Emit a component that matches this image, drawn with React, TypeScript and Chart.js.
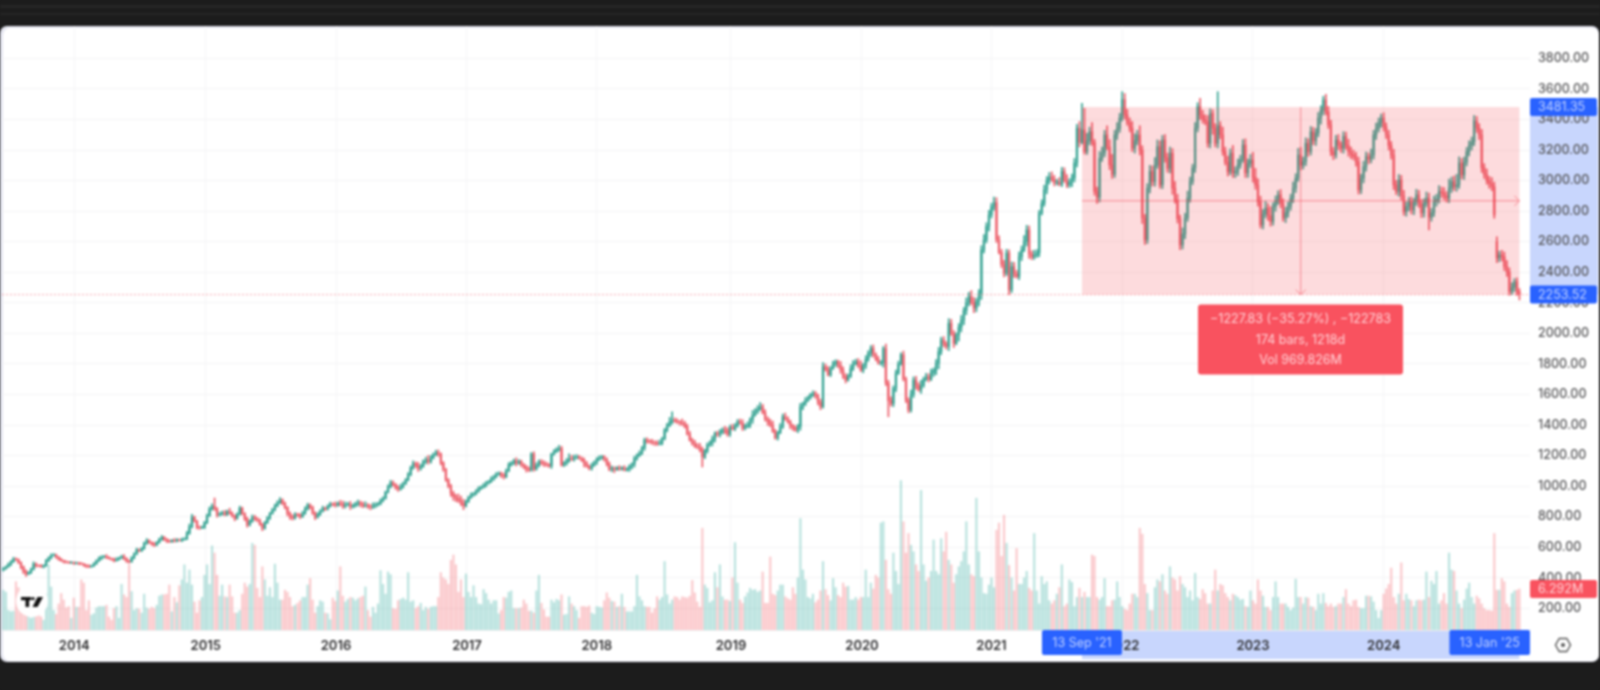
import React, { useEffect, useRef } from "react";
import { Chart, registerables } from "chart.js";

Chart.register(...registerables);

const closes = [
460,472,488,505,522,518,500,470,440,425,
435,455,490,480,478,472,480,510,530,545,
549,535,520,512,505,502,498,500,495,497,
492,490,482,476,472,478,492,510,525,535,
538,532,525,520,512,520,530,538,525,510,
505,530,555,582,577,590,625,642,630,620,
614,630,650,665,650,640,636,645,640,648,
645,650,653,690,734,796,770,730,728,730,
760,805,850,868,850,811,815,825,815,833,
820,805,789,815,855,820,785,745,770,797,
785,778,750,724,760,790,820,845,870,890,
909,885,860,820,800,790,815,810,800,820,
850,876,860,825,796,815,835,855,850,868,
883,880,875,887,880,870,878,880,865,870,
885,891,880,870,875,868,863,870,878,883,
905,920,960,995,1022,1010,990,979,995,1015,
1040,1075,1120,1149,1135,1116,1130,1160,1171,1160,
1185,1205,1219,1210,1151,1110,1040,1000,953,930,
920,905,890,870,900,925,942,950,965,985,
992,1005,1020,1029,1045,1060,1075,1084,1070,1062,
1100,1140,1151,1165,1150,1160,1140,1125,1110,1105,
1210,1112,1135,1160,1150,1145,1140,1132,1210,1225,
1240,1247,1138,1150,1165,1182,1178,1185,1190,1182,
1170,1150,1130,1116,1135,1155,1175,1185,1192,1175,
1145,1110,1115,1108,1120,1112,1118,1105,1110,1130,
1145,1182,1200,1215,1250,1302,1295,1290,1285,1282,
1275,1280,1310,1367,1395,1420,1433,1425,1420,1415,
1411,1390,1340,1302,1280,1262,1258,1240,1192,1230,
1269,1285,1310,1346,1340,1350,1370,1367,1340,1385,
1375,1395,1420,1413,1380,1390,1400,1435,1465,1490,
1505,1520,1480,1440,1421,1400,1360,1315,1350,1389,
1454,1440,1420,1395,1380,1367,1390,1520,1540,1560,
1580,1600,1607,1590,1550,1520,1782,1760,1727,1770,
1800,1815,1790,1760,1720,1695,1720,1770,1800,1815,
1790,1760,1790,1830,1870,1902,1860,1830,1805,1805,
1900,1675,1560,1540,1640,1740,1800,1860,1700,1563,
1498,1600,1695,1660,1630,1660,1700,1716,1700,1740,
1760,1804,1880,1957,1930,1913,2066,2000,1935,1990,
2040,2087,2150,2200,2240,2200,2165,2210,2262,2546,
2610,2700,2775,2830,2856,2612,2530,2450,2393,2526,
2284,2437,2390,2371,2502,2546,2600,2677,2520,2500,
2510,2526,2787,2850,2940,3000,3025,3010,2985,2990,
2975,3060,3000,2971,2990,3015,3115,3343,3250,3331,
3189,3260,3320,3250,2928,2890,3146,3180,3299,3220,
3102,3040,3299,3340,3410,3530,3430,3380,3343,3210,
3260,3299,3200,2755,2612,2950,3060,2993,3100,3222,
2971,3266,3150,3080,3180,2950,2873,2750,2578,2650,
2755,2885,2993,3083,3343,3484,3430,3400,3386,3244,
3440,3343,3244,3360,3300,3189,3120,3058,3180,3050,
3060,3102,3140,3233,3050,3110,3135,3020,2971,2862,
2709,2780,2820,2770,2732,2830,2870,2907,2850,2755,
2790,2830,2885,2950,3015,3167,3100,3124,3244,3189,
3320,3260,3311,3410,3460,3528,3450,3365,3189,3167,
3266,3230,3210,3290,3230,3189,3170,3157,3124,2938,
3015,3090,3157,3140,3167,3299,3340,3380,3410,3350,
3299,3230,3167,2971,2928,3004,2900,2797,2830,2862,
2807,2860,2907,2850,2788,2850,2885,2760,2790,2862,
2880,2928,2919,2900,2885,2950,2993,2960,2971,3115,
3037,3120,3189,3230,3255,3390,3343,3299,3083,3040,
3000,2980,2960,2775,2493,2514,2502,2437,2403,2273,
2300,2338,2273,2253.52];

const openGaps: Record<number, number> = { 0: 452, 594: 2600 };

const wickUp = [
8,6,10,7,12,9,6,5,8,12,6,9,14,7,5,8,6,10,8,12,
10,6,5,8,4,6,5,7,4,6,5,8,4,6,9,5,7,8,12,10,
9,14,6,5,8,12,6,10,14,7,5,9,8,12,7,10,9,14,8,6,
12,8,10,12,6,8,10,5,12,8,6,9,10,14,18,20,8,6,10,8,
10,12,14,16,54,10,14,12,16,10,22,12,8,10,14,8,6,12,10,14,
12,10,6,8,10,12,8,10,12,14,16,8,10,6,12,14,12,8,10,16,
14,12,8,10,6,12,10,14,8,10,12,8,16,10,20,22,18,14,20,12,
10,18,12,16,22,10,12,20,14,10,12,10,8,14,16,12,8,14,18,12,
10,14,12,16,10,20,14,12,18,30,16,12,16,18,8,10,6,10,12,14,
16,28,30,24,8,10,14,10,12,12,10,14,12,10,16,12,14,10,8,16,
12,14,10,12,20,14,10,8,12,16,10,14,18,12,14,16,12,8,6,14,
12,20,14,10,16,30,20,18,16,12,10,14,12,8,16,10,12,14,10,8,
10,14,16,12,8,14,10,16,12,10,8,14,12,16,10,12,14,10,16,12,
14,22,10,12,16,30,54,14,16,10,24,14,16,18,12,20,18,22,16,10,
14,12,18,10,14,20,12,22,16,14,20,14,16,18,22,16,20,12,30,18,
22,26,16,20,14,18,26,12,10,20,18,24,14,12,10,16,14,22,10,20,
10,8,16,14,12,20,26,18,22,14,18,12,10,26,20,16,14,24,22,16,
20,30,14,24,16,18,22,12,20,16,14,30,18,24,16,20,18,12,24,14,
16,28,20,24,18,32,14,22,20,26,14,24,28,18,22,16,30,26,18,14,
24,30,20,32,28,40,34,20,24,28,36,24,30,22,36,32,26,20,28,24,
20,30,28,22,30,26,40,30,26,20,34,22,18,24,30,26,28,32,24,18,
30,26,24,40,22,28,30,26,44,175,142,50,30,60,20,30,44,40,30,60,
48,70,30,40,30,52,40,36,30,44,46,30,60,28,24,30,40,36,50,44,
38,30,36,30,40,30,44,38,24,40,30,46,30,24,36,26,55,30,30,40,
30,24,30,222,26,50,30,40,28,50,30,38,26,36,40,30,36,50,60,40,
36,30,44,30,60,24,30,26,34,30,36,30,26,40,30,44,50,30,36,30,
34,28,30,36,30,24,37,36,30,28,30,36,24,30,28,40,30,30,28,30,
26,36,30,24,40,30,36,30,26,34,28,30,26,38,30,36,30,36,30,28,
30,24,36,30,26,30,40,34,28,36,30,40,30,36,28,60,30,36,70,40,
30,34,28,30,30,36,30,30,36,28,36,28,40,30,32,24,30,30,40,26,
30,20,26,20];

const wickDown = [
8,6,5,9,6,4,8,12,14,16,6,8,5,10,6,4,8,6,5,7,
4,8,6,5,9,6,4,5,8,6,7,5,8,10,6,4,5,6,4,8,
5,7,4,6,8,4,5,6,8,10,9,4,6,5,8,6,4,7,6,8,
10,5,4,6,8,10,6,4,7,5,6,8,5,4,6,8,6,10,12,6,
8,6,4,7,10,14,8,6,10,8,6,8,16,6,5,8,12,14,6,8,
10,12,8,16,6,5,8,4,7,6,5,8,10,16,18,12,6,10,14,6,
5,8,10,12,16,6,8,5,10,7,6,10,12,8,10,16,14,8,18,10,
8,14,16,12,8,14,18,10,12,10,6,8,6,5,8,10,12,14,6,8,
5,6,8,10,16,20,12,8,14,16,10,8,6,16,12,14,10,12,20,24,
22,14,18,24,6,8,6,10,8,6,8,6,10,8,6,8,6,5,14,16,
8,6,10,12,18,8,14,12,18,10,8,14,8,10,12,16,12,10,16,8,
6,12,8,10,14,10,12,14,8,6,10,24,8,10,12,6,14,8,10,12,
14,10,16,20,6,10,8,6,8,14,18,20,12,8,10,16,14,10,12,16,
8,6,10,8,12,6,14,8,10,16,14,10,6,8,12,10,14,16,67,12,
14,10,22,20,16,18,10,24,14,14,8,12,10,8,16,12,10,18,24,8,
16,10,8,14,24,12,10,8,14,8,12,10,8,20,16,10,18,24,20,14,
8,12,14,16,18,20,10,8,6,10,6,18,14,22,16,20,8,10,14,8,
14,10,18,20,14,22,16,10,8,14,26,18,106,16,20,22,10,8,12,16,
18,14,20,26,10,24,14,12,18,10,22,30,36,20,18,16,26,14,28,10,
40,30,30,28,20,14,30,24,30,40,20,18,30,20,24,18,10,20,24,16,
30,18,24,10,20,26,12,28,30,18,16,14,24,12,18,26,22,16,20,14,
10,14,12,18,16,30,24,26,30,10,16,18,26,20,24,40,30,20,24,18,
30,26,20,30,24,20,28,18,24,20,30,26,32,36,30,24,30,28,30,20,
20,24,30,26,30,40,20,28,30,26,30,22,26,20,30,24,30,24,20,26,
30,40,24,30,26,24,18,28,20,30,30,26,22,20,30,30,24,30,28,30,
20,26,24,30,30,24,30,26,28,20,30,30,24,30,28,20,30,24,26,30,
22,26,30,24,40,30,20,24,26,30,20,28,26,30,24,30,26,22,30,26,
24,30,28,30,24,26,30,22,30,26,24,30,26,30,20,30,26,24,30,28,
26,30,24,26,30,28,22,83,26,24,30,28,30,24,26,30,28,24,30,22,
26,30,24,28,30,26,28,30,30,26,24,30,26,22,30,24,28,26,30,24,
20,26,24,35];

const volumesM = [
6.1,5.8,3,2.8,2.9,7.4,6.5,3.6,3,2.5,
2.2,1.8,2.4,3,3.2,2,1.5,5.5,10,6.6,
3,2.4,4,5.6,4.6,3.4,3.6,1.8,4.9,3.5,
3.5,7.7,7.2,3,4.5,2.3,2.5,3.4,3.6,3.6,
3.6,3.8,2,1.5,3.3,3.6,1.8,7,5.4,5,
10,5.9,3,3.3,3.2,2.6,5.5,3.4,3.2,3.5,
3.3,3.8,5.2,5.4,5.4,5.5,6.9,2.8,5,4.2,
6.8,7.7,10,7.2,9.2,6.9,4.3,2.6,4.5,5,
8.4,10,7,12.9,11.8,8.4,5.2,6.9,5.1,5,
6.9,5.1,2.6,2.6,3,5.5,7.2,6.6,7,13.3,
13,6.4,5,9.7,7.7,5.2,6.5,5,10.1,7.2,
4.6,4.6,6.1,5.8,5,3.6,3.8,4.1,4.5,5,
5,6.9,7.9,4.6,2.6,3.6,4.5,4.3,2.6,2.5,
1.6,4.9,4.4,6,9.7,5.2,4.3,4.7,5,4.9,
4.5,4.8,5,5.2,6.6,3,2,3.5,2.6,4,
9.1,7,5.5,8.9,8.5,3.3,3.2,4.5,4.7,4.9,
4.6,8.8,4.3,4.5,3.3,3.6,4.1,3,3.5,3.2,
3.5,3.6,3.6,5,8.8,8,7.7,7,10.7,11.5,
10,5.8,7.7,5,8.6,5.8,5,6.8,5,4,
3.9,6.2,5.6,4.6,4,4.5,4.5,2.5,3,5,
4.9,5.8,6,3.3,3.3,3.3,3.4,4.6,4,2.9,
2.9,2.6,6,8.4,4.1,3.1,2,2,4.6,4.2,
4.7,4.5,5.4,2.3,2.4,5.1,4,3.6,3,1.8,
3.6,3.6,3.5,3.7,2.6,2.4,3.6,3.5,3.4,4.5,
5.7,4.9,4.4,4.3,3.5,3.6,5.5,3.5,2.8,2.8,
2.8,3.6,8.4,5.1,4.5,3.6,3.5,3.5,2.6,3.3,
5.1,4.6,5,10.5,5.4,4,4.6,5.1,5,4.6,
5.1,5,4.9,5.2,7.6,5.7,4.3,3.5,15.6,6.9,
6.4,4.2,4.5,8.8,6.5,10,5.1,4.6,4.6,4.4,
8,13.4,7.2,4.6,4.1,5.1,5.7,6.4,6.1,6.2,
5.8,6,8.9,4.1,4.1,11.2,5.5,5.3,6,6.9,
6.9,5.1,4.8,4.6,6.5,5.5,8,17.1,9.2,7.7,
5,4.8,5.5,4.2,4.6,6,10.5,6.2,5.3,4.5,
7.9,6.5,5.3,5,7.2,6.6,6.7,4.6,4.6,5,
4.6,5,5,9.2,5,7.2,6.3,8.4,8,16.4,
16.6,10.7,6.2,5.5,11.8,9,7,22.9,16.6,11.8,
14.8,13,12,10,9,21.4,10,7.5,8,9,
13.8,9,8.5,14,12,15,10.7,10,7.2,8.5,
9.7,10.5,12,16.6,10,8.5,8.2,20.2,12,8,
5.6,5.5,6.9,8,6.5,15.3,16.4,11.3,17.6,13.3,
9.9,8,6,12.5,7,7,8,9,6.4,6,
14.8,6,4,8.2,7,7.4,4.5,4,4.5,5.5,
6.5,10,3.6,4,7.7,7.3,3.6,5,6.4,5,
5.8,5,5,11.5,11.3,5,4.6,5,7.9,3.6,
3.6,4.5,4.6,7.4,5,3.6,3.2,3,4,5.5,
5.5,5,15.6,14.7,7,5.6,3,3,6.5,7.7,
7.4,8.5,6,5.5,9.7,8,7.7,6,8.2,7,
6.5,5,6,4.5,8.7,5,4.7,6.2,5.6,4,
4,6,9.2,6,7,6.8,5.6,5,4.5,5.5,
5.3,5,4.6,4.7,3.6,3.5,6,4.5,4,7.7,
6,5.2,3.5,3.5,3,5,7.4,5,4,4,
4,3.5,3,3.4,7.8,5,5,4,5,4.9,
3.6,3.5,3,5.5,4,5.6,4.1,3.6,4,3.5,
3.6,4,4,5,6.2,4,3.6,4.5,4.6,3.5,
3.3,3.3,5.2,5.2,5.1,4.3,3,1.8,3,5.5,
6.3,7,9.5,5,4,5.5,10.3,4.5,5.5,4.7,
4.5,3.6,4.5,4.6,4.5,4.6,8.9,5,7.5,7,
9,4,4.5,5.6,4,11.8,9.2,9,6,4,
3.3,4.6,6.3,7.2,5,4,5.2,4.8,4,3.3,
3,3,2.9,14.8,6.1,6.1,7.9,7.4,4,3.5,
5.6,6,6.1,6.292];

const priceTicks = [200,400,600,800,1000,1200,1400,1600,1800,2000,2200,2400,2600,2800,3000,3200,3400,3600,3800];
const yearLabels = ["2014","2015","2016","2017","2018","2019","2020","2021","2022","2023","2024"];
const yearBars = [28.2,80.5,132.3,184.4,236,289.4,341.5,393,445.3,497,549];

const RANGE_START_BAR = 429;
const RANGE_END_BAR = 603;
const RANGE_TOP = 3481.35;
const RANGE_BOTTOM = 2253.52;
const rangeInfo = ["\u22121227.83 (\u221235.27%) , \u2212122783", "174 bars, 1218d", "Vol 969.826M"];
const RANGE_START_LABEL = "13 Sep '21";
const RANGE_END_LABEL = "13 Jan '25";
const VOLUME_LABEL = "6.292M";

const UP = "#2fa08f";
const DOWN = "#ec5a66";
const UP_VOL = "rgba(38,166,154,0.33)";
const DOWN_VOL = "rgba(242,72,84,0.30)";

const opens = closes.map((c, i) => (i in openGaps ? openGaps[i] : i === 0 ? c : closes[i - 1]));

function roundRect(ctx: CanvasRenderingContext2D, x: number, y: number, w: number, h: number, r: number, fill: string) {
  ctx.fillStyle = fill;
  ctx.beginPath();
  ctx.roundRect(x, y, w, h, r);
  ctx.fill();
}

const backdrop = {
  id: "backdrop",
  beforeDraw(chart: any) {
    const { ctx, width, height, chartArea, scales } = chart;
    ctx.save();
    ctx.fillStyle = "#1c1c1c";
    ctx.fillRect(0, 0, width, height);
    ctx.fillStyle = "#262626";
    ctx.fillRect(0, 5, width, 3);
    ctx.fillRect(0, 13, width, 2);
    roundRect(ctx, 0, 26, width - 1, 636, 7, "#e4e5f0");
    roundRect(ctx, 3, 28, width - 4, 633, 7, "#ffffff");
    const x0 = scales.x.getPixelForValue(RANGE_START_BAR);
    const x1 = scales.x.getPixelForValue(RANGE_END_BAR);
    const yT = scales.y.getPixelForValue(RANGE_TOP);
    const yB = scales.y.getPixelForValue(RANGE_BOTTOM);
    ctx.fillStyle = "#c8d6fd";
    ctx.fillRect(chartArea.right, yT, width - chartArea.right - 2, yB - yT);
    ctx.fillRect(x0, chartArea.bottom, x1 - x0, 29);
    ctx.restore();
  },
};

const overlay = {
  id: "overlay",
  afterDatasetsDraw(chart: any) {
    const { ctx, chartArea, scales } = chart;
    const a = chartArea;
    const x0 = scales.x.getPixelForValue(RANGE_START_BAR);
    const x1 = scales.x.getPixelForValue(RANGE_END_BAR);
    const yT = scales.y.getPixelForValue(RANGE_TOP);
    const yB = scales.y.getPixelForValue(RANGE_BOTTOM);
    const midX = (x0 + x1) / 2;
    const midY = (yT + yB) / 2;
    ctx.save();
    ctx.fillStyle = "rgba(242,54,69,0.18)";
    ctx.fillRect(x0, yT, x1 - x0, yB - yT);
    ctx.strokeStyle = "rgba(242,64,80,0.55)";
    ctx.lineWidth = 1;
    ctx.beginPath();
    ctx.moveTo(x0, midY);
    ctx.lineTo(x1, midY);
    ctx.moveTo(x1 - 5, midY - 5);
    ctx.lineTo(x1, midY);
    ctx.lineTo(x1 - 5, midY + 5);
    ctx.moveTo(midX, yT);
    ctx.lineTo(midX, yB);
    ctx.moveTo(midX - 5, yB - 5);
    ctx.lineTo(midX, yB);
    ctx.lineTo(midX + 5, yB - 5);
    ctx.stroke();
    ctx.strokeStyle = "rgba(244,110,120,0.6)";
    ctx.setLineDash([2, 2]);
    ctx.beginPath();
    ctx.moveTo(a.left, yB);
    ctx.lineTo(a.right, yB);
    ctx.stroke();
    ctx.setLineDash([]);

    roundRect(ctx, 1198, yB + 10, 205, 70, 3, "#f9525f");
    ctx.fillStyle = "#ffd3d7";
    ctx.font = "12.5px Inter";
    ctx.textAlign = "center";
    ctx.textBaseline = "middle";
    rangeInfo.forEach((t, i) => ctx.fillText(t, 1300.5, yB + 25 + i * 20.5));

    const badge = (y: number, t: string, fill: string, color: string) => {
      roundRect(ctx, a.right, y - 9, 67, 18, 2, fill);
      ctx.fillStyle = color;
      ctx.font = "12.5px Inter";
      ctx.textAlign = "left";
      ctx.fillText(t, a.right + 8, y + 0.5);
    };
    badge(yT, RANGE_TOP.toFixed(2), "#2962ff", "#c3d3ff");
    badge(yB, RANGE_BOTTOM.toFixed(2), "#2962ff", "#c3d3ff");
    badge(scales.v.getPixelForValue(volumesM[volumesM.length - 1]), VOLUME_LABEL, "#f9525f", "#ffd3d7");

    const timeBadge = (left: number, right: number, t: string) => {
      roundRect(ctx, left, a.bottom, right - left, 25, 2, "#2962ff");
      ctx.fillStyle = "#c3d3ff";
      ctx.font = "12.5px Inter";
      ctx.textAlign = "center";
      ctx.fillText(t, (left + right) / 2, a.bottom + 13);
    };
    timeBadge(x0 - 40, x0 + 40, RANGE_START_LABEL);
    timeBadge(x1 - 70, a.right, RANGE_END_LABEL);

    // TradingView mark
    ctx.fillStyle = "#ffffff";
    ctx.beginPath();
    ctx.arc(32, 601, 16, 0, Math.PI * 2);
    ctx.fill();
    ctx.fillStyle = "#111111";
    ctx.fillRect(21, 597, 10, 3.2);
    ctx.fillRect(25.5, 597, 3.6, 10);
    ctx.beginPath();
    ctx.arc(33, 598.6, 1.7, 0, Math.PI * 2);
    ctx.fill();
    ctx.beginPath();
    ctx.moveTo(37.5, 597);
    ctx.lineTo(43, 597);
    ctx.lineTo(37.5, 607);
    ctx.lineTo(32.5, 607);
    ctx.fill();

    // settings glyph
    const cx = 1563;
    const cy = 645;
    ctx.strokeStyle = "#555555";
    ctx.lineWidth = 1.4;
    ctx.beginPath();
    for (let k = 0; k < 6; k++) {
      const ang = (Math.PI / 3) * k;
      const px = cx + 7.5 * Math.cos(ang);
      const py = cy + 7.5 * Math.sin(ang);
      if (k === 0) ctx.moveTo(px, py);
      else ctx.lineTo(px, py);
    }
    ctx.closePath();
    ctx.stroke();
    ctx.fillStyle = "#555555";
    ctx.beginPath();
    ctx.arc(cx, cy, 2, 0, Math.PI * 2);
    ctx.fill();
    ctx.restore();
  },
};

export default function App() {
  const ref = useRef<HTMLCanvasElement>(null);
  useEffect(() => {
    document.body.style.margin = "0";
    document.body.style.background = "#1c1c1c";
    const isUp = closes.map((c, i) => c >= opens[i]);
    const chart = new Chart(ref.current as HTMLCanvasElement, {
      type: "bar",
      data: {
        datasets: [
          {
            label: "Volume",
            yAxisID: "v",
            order: 3,
            barThickness: 1.5,
            data: volumesM.map((v, i) => ({ x: i, y: v })),
            backgroundColor: isUp.map((u) => (u ? UP_VOL : DOWN_VOL)),
          },
          {
            label: "Wick",
            yAxisID: "y",
            order: 2,
            barThickness: 1,
            data: closes.map((c, i) => ({
              x: i,
              y: [Math.min(c, opens[i]) - wickDown[i], Math.max(c, opens[i]) + wickUp[i]],
            })),
            backgroundColor: isUp.map((u) => (u ? UP : DOWN)),
          },
          {
            label: "Body",
            yAxisID: "y",
            order: 1,
            barThickness: 1.6,
            data: closes.map((c, i) => ({ x: i, y: [opens[i], c] })),
            backgroundColor: isUp.map((u) => (u ? UP : DOWN)),
          },
        ] as any,
      },
      options: {
        responsive: false,
        animation: false,
        events: [],
        layout: { padding: { left: 2, top: 26, right: 2, bottom: 29 } },
        datasets: { bar: { grouped: false } } as any,
        plugins: { legend: { display: false }, tooltip: { enabled: false } },
        scales: {
          x: {
            type: "linear",
            offset: false,
            bounds: "data",
            min: -0.55,
            max: 607.2,
            afterBuildTicks: (s: any) => {
              s.ticks = yearBars.map((value) => ({ value }));
            },
            afterFit: (s: any) => {
              s.height = 31;
            },
            grid: { offset: false, color: "#f5f5f6", drawTicks: false },
            border: { display: true, color: "#eeeeef" },
            ticks: {
              autoSkip: false,
              maxRotation: 0,
              padding: 8,
              color: "#2c2c2e",
              font: { family: "Inter", size: 13, weight: "600" },
              callback: (v: any) => yearLabels[yearBars.indexOf(v)] ?? "",
            },
          },
          y: {
            type: "linear",
            position: "right",
            bounds: "data",
            min: 58,
            max: 4012,
            afterBuildTicks: (s: any) => {
              s.ticks = priceTicks.map((value) => ({ value }));
            },
            afterFit: (s: any) => {
              s.width = 68;
            },
            grid: { color: "#f4f4f5", drawTicks: false },
            border: { display: false },
            ticks: {
              autoSkip: false,
              padding: 8,
              color: "#565658",
              font: { family: "Inter", size: 12.5, weight: "500" },
              callback: (v: any) => Number(v).toFixed(2),
            },
          },
          v: { type: "linear", display: false, min: 0, max: 92.6 },
        },
      } as any,
      plugins: [backdrop, overlay],
    });
    return () => chart.destroy();
  }, []);
  return (
    <div style={{ position: "fixed", left: 0, top: 0, width: 1600, height: 690 }}>
      <canvas ref={ref} width={1600} height={690} style={{ display: "block", filter: "blur(0.8px)" }} />
    </div>
  );
}
